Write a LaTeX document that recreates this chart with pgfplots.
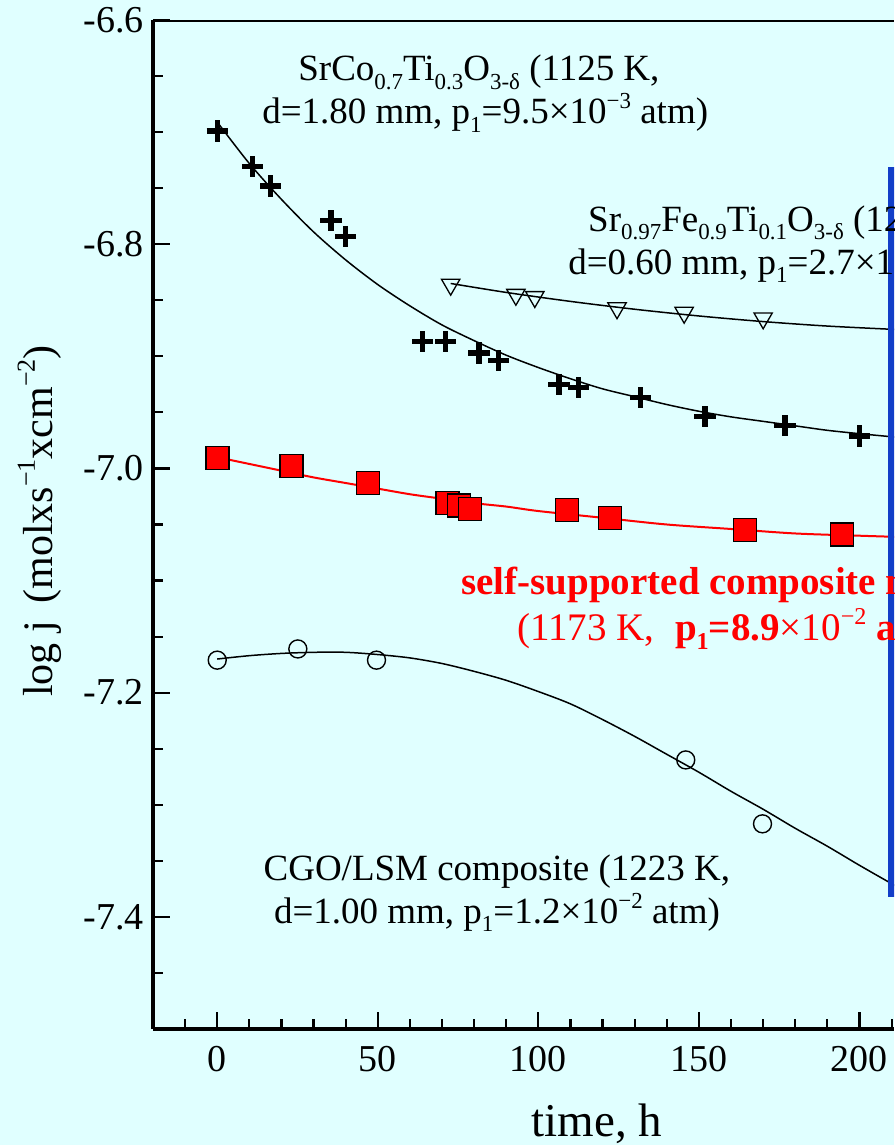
\documentclass[border=0pt]{standalone}
\usepackage{fontspec}
\setmainfont{Liberation Serif}
\usepackage{graphicx}
\usepackage{pgfplots}
\pgfplotsset{compat=1.18}
\usetikzlibrary{plotmarks}
\definecolor{bgcyan}{RGB}{224,255,255}
\definecolor{barblue}{RGB}{18,62,200}
\newcommand{\anno}{\fontsize{18.5}{22.5}\selectfont}
\newcommand{\annored}{\fontsize{19.5}{23}\selectfont}
\newcommand{\tickf}{\fontsize{19}{22}\selectfont}
% small sub- and superscripts as in the original figure
\newcommand{\sbs}[1]{\raisebox{-0.22em}{\scalebox{0.62}{#1}}}
\newcommand{\sps}[1]{\raisebox{0.42em}{\scalebox{0.62}{#1}}}
\begin{document}
\begin{tikzpicture}
% 1 px of the reference = 0.5 pt
\fill[bgcyan] (-76.5pt,-58pt) rectangle (370.5pt,514.5pt);
\begin{axis}[
    at={(0,0)}, anchor=south west,
    scale only axis,
    width=370.5pt, height=504.5pt,
    xmin=-20, xmax=210.75,
    ymin=-7.5, ymax=-6.6,
    axis x line*=bottom,
    axis y line*=left,
    axis line style={line width=1.6pt},
    xtick={0,50,100,150,200},
    xticklabels={0,50,100,150,200},
    minor xtick={-10,10,20,30,40,60,70,80,90,110,120,130,140,160,170,180,190,210},
    ytick={-7.4,-7.2,-7.0,-6.8,-6.6},
    yticklabels={-7.4,-7.2,-7.0,-6.8,-6.6},
    minor ytick={-7.45,-7.35,-7.3,-7.25,-7.15,-7.1,-7.05,-6.95,-6.9,-6.85,-6.75,-6.7,-6.65},
    tick align=inside,
    major tick length=8.5pt,
    minor tick length=4.75pt,
    every tick/.style={black, line width=1.1pt},
    tick label style={font=\tickf},
    xticklabel style={yshift=-5pt},
    yticklabel style={xshift=-1pt},
    xlabel={time, h},
    xlabel style={font=\fontsize{23.5}{26}\selectfont, at={(axis description cs:0.599,-0.094)}, anchor=center},
    ylabel={log j\, (molxs\sps{−1}xcm\sps{−2})},
    ylabel style={font=\fontsize{21}{24}\selectfont, at={(axis description cs:-0.153,0.5035)}, anchor=center},
]
% top frame line (the right frame lies outside the cropped picture)
\draw[line width=1.6pt] (rel axis cs:0,1) -- (rel axis cs:1,1);

% SrCo0.7Ti0.3O3 - fitted curve and data
\addplot[black, line width=0.75pt, smooth] coordinates {
  (0,-6.691) (10,-6.728) (20,-6.760) (30,-6.789) (40,-6.814) (50,-6.836)
  (60,-6.855) (70,-6.872) (80,-6.886) (90,-6.899) (100,-6.910) (110,-6.920)
  (120,-6.929) (130,-6.936) (140,-6.943) (150,-6.949) (160,-6.954)
  (170,-6.958) (180,-6.962) (190,-6.966) (200,-6.969) (211,-6.972)};
\addplot[only marks, mark=+, mark size=5.3pt, line width=2.6pt, black] coordinates {
  (0,-6.699) (11.1,-6.731) (16.7,-6.748) (35.4,-6.779) (40.0,-6.793)
  (64.0,-6.887) (71.2,-6.887) (81.5,-6.897) (87.7,-6.904) (106.4,-6.925)
  (112.6,-6.928) (131.9,-6.937) (151.9,-6.954) (176.8,-6.962) (200.0,-6.971)};

% Sr0.97Fe0.9Ti0.1O3
\addplot[black, line width=0.75pt, smooth] coordinates {
  (72.7,-6.835) (90,-6.843) (110,-6.851) (130,-6.858) (150,-6.864)
  (170,-6.869) (190,-6.873) (211,-6.876)};
\addplot[only marks, mark=triangle, mark size=5.3pt, line width=0.65pt, black,
    mark options={rotate=180, fill=bgcyan}] coordinates {
  (72.7,-6.836) (93.0,-6.845) (98.9,-6.847) (124.5,-6.857) (145.4,-6.861) (170.0,-6.866)};

% self-supported composite membrane
\addplot[red, line width=1pt, smooth] coordinates {
  (0,-6.990) (10,-6.996) (20,-7.002) (30,-7.008) (40,-7.013) (50,-7.018)
  (60,-7.023) (70,-7.027) (80,-7.031) (90,-7.034) (100,-7.038) (120,-7.044)
  (140,-7.050) (160,-7.054) (180,-7.058) (200,-7.060) (211,-7.061)};
\addplot[only marks, mark=square*, mark size=5.75pt, line width=0.6pt, draw=black, fill=red] coordinates {
  (0.06,-6.991) (23.1,-6.998) (47.0,-7.013) (71.7,-7.031) (75.3,-7.033)
  (78.8,-7.036) (108.9,-7.037) (122.3,-7.044) (164.3,-7.055) (194.5,-7.059)};

% CGO/LSM composite
\addplot[black, line width=0.75pt, smooth] coordinates {
  (0,-7.170) (10,-7.167) (20,-7.165) (30,-7.164) (40,-7.164) (50,-7.166)
  (60,-7.169) (70,-7.174) (80,-7.181) (90,-7.189) (100,-7.199) (110,-7.210)
  (120,-7.224) (130,-7.239) (140,-7.255) (150,-7.271) (160,-7.288)
  (170,-7.304) (180,-7.321) (190,-7.337) (200,-7.354) (211,-7.372)};
\addplot[only marks, mark=o, mark size=4.5pt, line width=0.7pt, black] coordinates {
  (0,-7.171) (25.1,-7.161) (49.6,-7.171) (145.9,-7.260) (169.8,-7.317)};

% blue bar at the right edge
\fill[barblue] (axis cs:208.9,-6.731) rectangle (axis cs:215,-7.382);

% annotations
\node[anchor=base, inner sep=0pt, font=\anno] at (axis cs:81.5,-6.6543)
  {SrCo\sbs{0.7}Ti\sbs{0.3}O\sbs{3-δ} (1125 K,};
\node[anchor=base west, inner sep=0pt, font=\anno] at (axis cs:13.9,-6.6927)
  {d=1.80 mm, p\sbs{1}=9.5×10\sps{−3} atm)};
\node[anchor=base west, inner sep=0pt, font=\anno] at (axis cs:115.4,-6.7889)
  {Sr\sbs{0.97}Fe\sbs{0.9}Ti\sbs{0.1}O\sbs{3-δ} (1223 K,};
\node[anchor=base west, inner sep=0pt, font=\anno] at (axis cs:109.2,-6.8272)
  {d=0.60 mm, p\sbs{1}=2.7×10\sps{−2} atm)};
\node[anchor=base west, inner sep=0pt, font=\annored, text=red] at (axis cs:75.9,-7.1122)
  {\textbf{self-supported composite membrane}};
\node[anchor=base west, inner sep=0pt, font=\annored, text=red] at (axis cs:93.3,-7.1538)
  {(1173 K,\; \textbf{p\sbs{1}=8.9}×10\sps{−2} \textbf{atm)}};
\node[anchor=base, inner sep=0pt, font=\anno] at (axis cs:87.1,-7.3679)
  {CGO/LSM composite (1223 K,};
\node[anchor=base, inner sep=0pt, font=\anno] at (axis cs:87.1,-7.4062)
  {d=1.00 mm, p\sbs{1}=1.2×10\sps{−2} atm)};
\end{axis}
\pgfresetboundingbox
\useasboundingbox (-76.5pt,-58pt) rectangle (370.5pt,514.5pt);
\end{tikzpicture}
\end{document}
